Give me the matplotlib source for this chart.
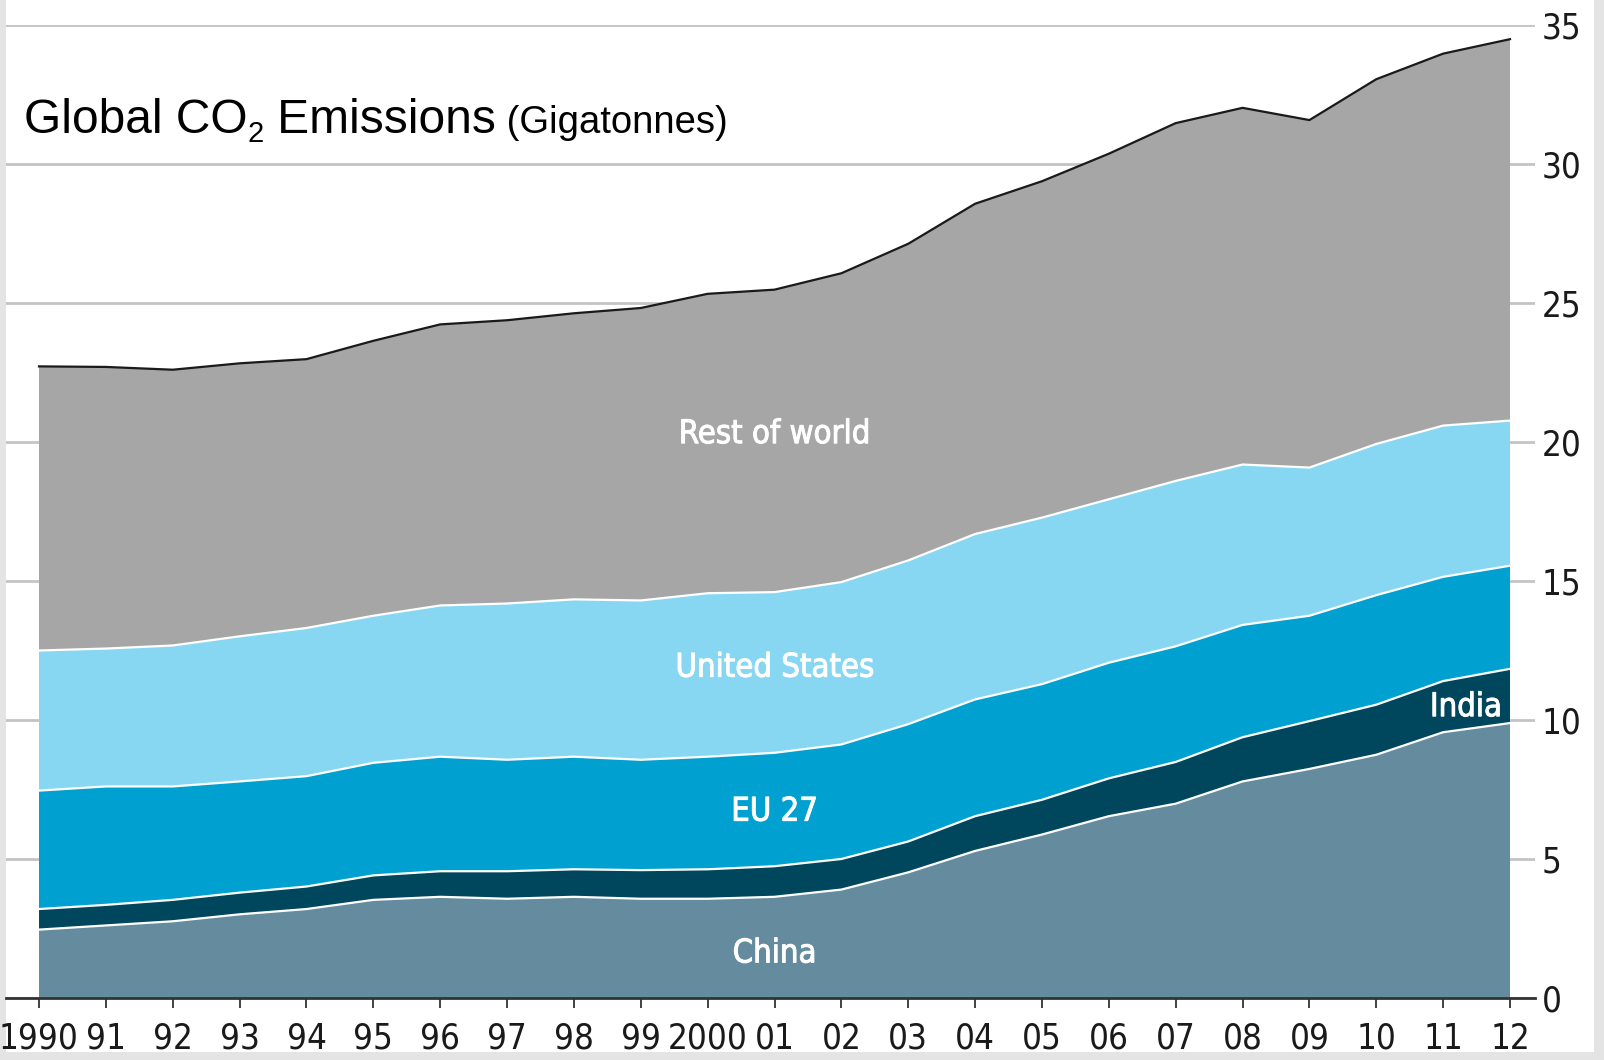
import matplotlib
matplotlib.use("Agg")
import matplotlib.pyplot as plt
from matplotlib.patches import Rectangle
from matplotlib import font_manager as fm
import matplotlib.patheffects as pe
import numpy as np

# Emissions by region, gigatonnes CO2, 1990-2012
years = list(range(1990, 2013))
year_labels = ["1990", "91", "92", "93", "94", "95", "96", "97", "98", "99",
               "2000", "01", "02", "03", "04", "05", "06", "07", "08", "09",
               "10", "11", "12"]

china = [2.46, 2.61, 2.76, 3.01, 3.20, 3.53, 3.64, 3.57, 3.64, 3.57, 3.57, 3.64,
         3.90, 4.52, 5.29, 5.88, 6.54, 6.99, 7.79, 8.24, 8.75, 9.56, 9.89]
india = [0.74, 0.74, 0.77, 0.78, 0.81, 0.88, 0.92, 0.99, 0.99, 1.03, 1.06, 1.10,
         1.10, 1.11, 1.25, 1.25, 1.36, 1.50, 1.59, 1.72, 1.80, 1.84, 1.95]
eu27 = [4.26, 4.26, 4.08, 4.00, 3.97, 4.05, 4.12, 4.01, 4.05, 3.97, 4.05, 4.08,
        4.12, 4.22, 4.20, 4.16, 4.16, 4.16, 4.04, 3.79, 3.94, 3.75, 3.71]
united_states = [5.04, 4.96, 5.07, 5.22, 5.33, 5.29, 5.44, 5.62, 5.66, 5.73, 5.88,
                 5.78, 5.84, 5.89, 5.95, 5.99, 5.88, 5.95, 5.77, 5.33, 5.44, 5.44, 5.22]
rest_of_world = [10.22, 10.13, 9.92, 9.82, 9.67, 9.89, 10.11, 10.19, 10.29, 10.52,
                 10.77, 10.88, 11.11, 11.39, 11.88, 12.10, 12.43, 12.87, 12.83,
                 12.50, 13.12, 13.38, 13.72]

series_names = ["China", "India", "EU 27", "United States", "Rest of world"]
colors = ["#648c9e", "#00465c", "#00a1d0", "#88d7f2", "#a6a6a6"]
y_ticks = [0, 5, 10, 15, 20, 25, 30, 35]

cond = fm.FontProperties(family="DejaVu Sans", stretch="condensed")
plain = ["Liberation Sans", "DejaVu Sans"]

W, H = 1604, 1060
fig = plt.figure(figsize=(W / 100, H / 100), dpi=100)
fig.patch.set_facecolor("#e4e4e4")
fig.patches.append(Rectangle((6 / W, 8 / H), (1594 - 6) / W, 1 - 8 / H,
                             transform=fig.transFigure, facecolor="white",
                             edgecolor="none", zorder=-5))

left_px, right_px = 6, 1535
x0_px, x1_px = 39, 1510
bottom_px, top_px = 998, 25
ax = fig.add_axes([left_px / W, 1 - bottom_px / H,
                   (right_px - left_px) / W, (bottom_px - top_px) / H])
ax.set_facecolor("none")

ppy = (x1_px - x0_px) / (years[-1] - years[0])
ax.set_xlim(years[0] - (x0_px - left_px) / ppy, years[-1] + (right_px - x1_px) / ppy)
ax.set_ylim(0, 35)

stack = np.vstack([china, india, eu27, united_states, rest_of_world])
ax.stackplot(years, stack, colors=colors, linewidth=0, zorder=2)

cum = np.cumsum(stack, axis=0)
for row in cum[:-1]:
    ax.plot(years, row, color="white", linewidth=1.6, zorder=3)
ax.plot(years, cum[-1], color="#1a1a1a", linewidth=1.6, zorder=3)

# grid and axes styling
ax.set_yticks(y_ticks)
ax.yaxis.tick_right()
ax.grid(axis="y", color="#c4c4c4", linewidth=2.0, zorder=1)
ax.set_axisbelow(True)
ax.tick_params(axis="y", length=0, pad=5, labelcolor="#1a1a1a")
for lbl in ax.get_yticklabels():
    lbl.set_fontproperties(cond)
    lbl.set_fontsize(25)

ax.set_xticks(years)
ax.set_xticklabels(year_labels)
ax.tick_params(axis="x", direction="out", length=7, width=1.3, color="#333333",
               pad=10, labelcolor="#1a1a1a")
for lbl in ax.get_xticklabels():
    lbl.set_fontproperties(cond)
    lbl.set_fontsize(25)

for side in ["top", "left", "right"]:
    ax.spines[side].set_visible(False)
ax.spines["bottom"].set_color("#333333")
ax.spines["bottom"].set_linewidth(2.0)
ax.spines["bottom"].set_zorder(4)

# series labels, slightly heavier than regular weight
def region_label(x, y, s):
    t = ax.text(x, y, s, color="white", ha="center", va="center", zorder=5)
    t.set_fontproperties(cond)
    t.set_fontsize(23.5)
    t.set_path_effects([pe.withStroke(linewidth=0.7, foreground="white")])
    return t


region_label(2001, 20.3, "Rest of world")
region_label(2001, 11.9, "United States")
region_label(2001, 6.72, "EU 27")
region_label(2001, 1.62, "China")
region_label(2011.34, 10.48, "India")

# title, built from pieces so the subscript sits right
t1 = fig.text(24 / W, 1 - 133 / H, "Global CO", fontsize=34.5, family=plain,
              color="black", va="baseline")
t2 = fig.text(0, 0, "2", fontsize=21, family=plain, color="black")
t3 = fig.text(0, 0, " Emissions", fontsize=34.5, family=plain, color="black")
t4 = fig.text(0, 0, " (Gigatonnes)", fontsize=27.5, family=plain, color="black")
fig.canvas.draw()
r = fig.canvas.get_renderer()


def place_after(prev, txt, dy_px=0.0):
    bb = prev.get_window_extent(r)
    x = bb.x1 / W
    y = t1.get_position()[1] + dy_px / H
    txt.set_position((x, y))
    txt.set_va("baseline")


place_after(t1, t2, dy_px=-9)
place_after(t2, t3)
place_after(t3, t4)

fig.savefig("out.png", dpi=100, facecolor=fig.get_facecolor())
